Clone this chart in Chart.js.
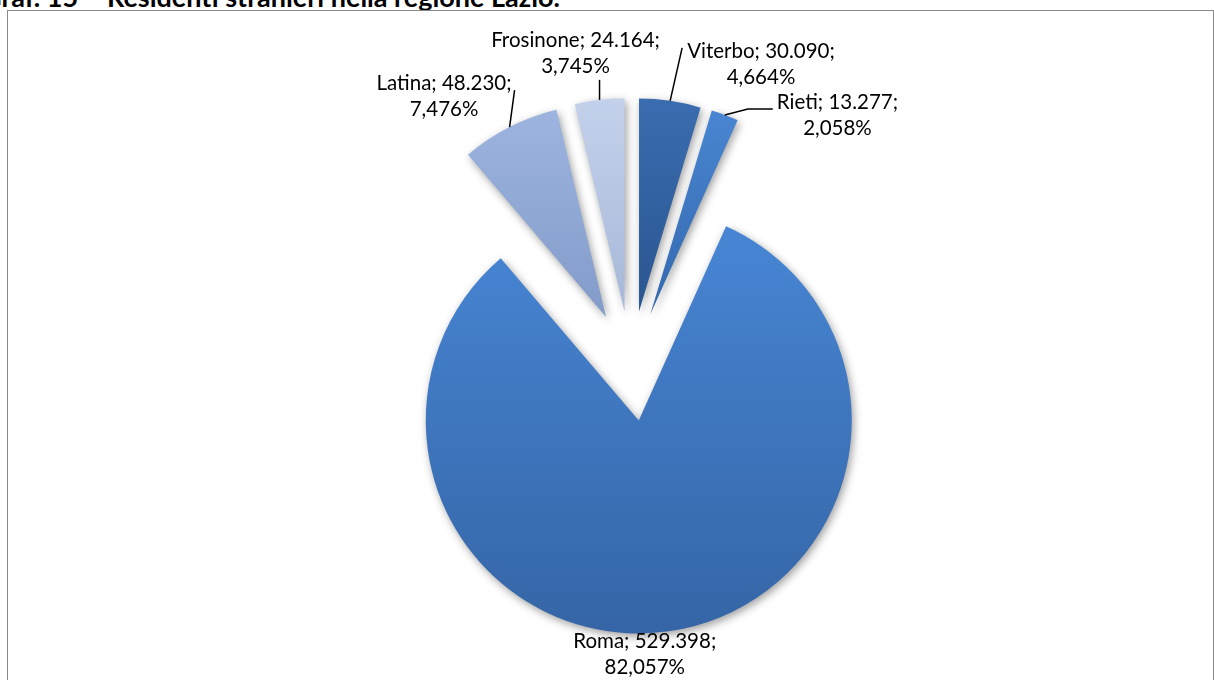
<!DOCTYPE html>
<html>
<head>
<meta charset="utf-8">
<script src="https://cdn.jsdelivr.net/npm/chart.js@4.4.1/dist/chart.umd.min.js"></script>
<style>
  html, body { margin: 0; padding: 0; background: #fff; overflow: hidden; }
  #wrap { position: relative; width: 1214px; height: 680px; }
  #title { position: absolute; left: -18px; top: -17px; font: bold 27px Lato, sans-serif; line-height: 27px; color: #000; white-space: nowrap; }
  #frame { position: absolute; left: 7px; top: 10px; width: 1207px; height: 700px; border: 1.5px solid #8a8a8a; box-sizing: border-box; }
  canvas { position: absolute; left: 0; top: 0; }
</style>
</head>
<body>
<div id="wrap">
  <div id="title">Graf. 15 – Residenti stranieri nella regione Lazio.</div>
  <div id="frame"></div>
  <canvas id="pieChart" width="1214" height="680"></canvas>
</div>
<script>
// data (clockwise from 12 o'clock)
const provinces = ['Viterbo', 'Rieti', 'Roma', 'Latina', 'Frosinone'];
const residents = [30090, 13277, 529398, 48230, 24164];

// look
const RADIUS = 213;
const EXPLODE = 55;
const sliceColors = [
  ['#3a6db0', '#2a5590'], // Viterbo
  ['#4a87d3', '#3368ad'], // Rieti
  ['#4887d6', '#3565a6'], // Roma
  ['#9db5df', '#829bc9'], // Latina
  ['#c3d1eb', '#a7b8d8']  // Frosinone
];
// leader line and text placement for each label
const labelLayout = [
  { lead: [12, -53], tail: 0, align: 'left', dx: 5, dy: 10 },
  { lead: [23, -6], tail: 25, align: 'left', dx: 4, dy: 0 },
  { lead: null, tail: 0, align: 'center', dx: -24, dy: 17 },
  { lead: [5, -37], tail: 0, align: 'right', dx: -3, dy: 0 },
  { lead: [0, -20], tail: 0, align: 'center', dx: -24, dy: -33 }
];
const LABEL_FONT = '20.5px Lato, sans-serif';
const LINE_H = 26;

const total = residents.reduce((s, v) => s + v, 0);

function fmtThousands(v) {
  return String(v).replace(/\B(?=(\d{3})+(?!\d))/g, '.');
}
function fmtPct(v) {
  return (v / total * 100).toFixed(3).replace('.', ',') + '%';
}

// centre of an exploded slice, computed the same way the pie lays it out
function sliceGeom(area, i) {
  let start = -Math.PI / 2;
  for (let k = 0; k < i; k++) start += residents[k] / total * Math.PI * 2;
  const span = residents[i] / total * Math.PI * 2;
  const mid = start + span / 2;
  return {
    cx: (area.left + area.right) / 2 + Math.cos(mid) * EXPLODE,
    cy: (area.top + area.bottom) / 2 + Math.sin(mid) * EXPLODE,
    span: span
  };
}

// move every slice outwards along its middle angle while drawing
const explodePlugin = {
  id: 'explode',
  beforeDatasetsDraw(chart) {
    const ctx = chart.ctx;
    ctx.save();
    ctx.shadowColor = 'rgba(0, 0, 0, 0.38)';
    ctx.shadowBlur = 9;
    ctx.shadowOffsetX = 2;
    ctx.shadowOffsetY = 3;
    chart.getDatasetMeta(0).data.forEach(arc => {
      const mid = (arc.startAngle + arc.endAngle) / 2;
      arc._baseX = arc.x;
      arc._baseY = arc.y;
      arc.x += Math.cos(mid) * EXPLODE;
      arc.y += Math.sin(mid) * EXPLODE;
    });
  },
  afterDatasetsDraw(chart) {
    chart.ctx.restore();
    chart.getDatasetMeta(0).data.forEach(arc => {
      arc.x = arc._baseX;
      arc.y = arc._baseY;
    });
  }
};

// "Name; value;" + "pct%" labels with leader lines
const labelPlugin = {
  id: 'sliceLabels',
  afterDatasetsDraw(chart) {
    const ctx = chart.ctx;
    ctx.save();
    ctx.font = LABEL_FONT;
    ctx.fillStyle = '#000';
    ctx.strokeStyle = '#000';
    ctx.lineWidth = 1.5;
    ctx.textBaseline = 'alphabetic';
    ctx.textAlign = 'center';
    chart.getDatasetMeta(0).data.forEach((arc, i) => {
      const mid = (arc.startAngle + arc.endAngle) / 2;
      const r = EXPLODE + arc.outerRadius;
      const ex = arc.x + Math.cos(mid) * r;
      const ey = arc.y + Math.sin(mid) * r;
      const lay = labelLayout[i];
      let ax = ex, ay = ey;
      if (lay.lead) {
        ctx.beginPath();
        ctx.moveTo(ex, ey);
        ax = ex + lay.lead[0];
        ay = ey + lay.lead[1];
        ctx.lineTo(ax, ay);
        if (lay.tail) {
          ax += lay.tail;
          ctx.lineTo(ax, ay);
        }
        ctx.stroke();
      }
      const lines = [provinces[i] + '; ' + fmtThousands(residents[i]) + ';', fmtPct(residents[i])];
      const w = Math.max(...lines.map(t => ctx.measureText(t).width));
      let cx = ax + lay.dx;
      if (lay.align === 'left') cx += w / 2;
      if (lay.align === 'right') cx -= w / 2;
      lines.forEach((t, k) => ctx.fillText(t, cx, ay + lay.dy + k * LINE_H));
    });
    ctx.restore();
  }
};

const ctxPie = document.getElementById('pieChart').getContext('2d');
const pieChart = new Chart(ctxPie, {
  type: 'pie',
  data: {
    labels: provinces,
    datasets: [{
      data: residents,
      radius: RADIUS,
      borderWidth: 0,
      backgroundColor(context) {
        const i = context.dataIndex;
        const area = context.chart.chartArea;
        if (i === undefined) return sliceColors[0][0];
        if (!area) return sliceColors[i][0];
        const g = sliceGeom(area, i);
        const top = g.cy - RADIUS;
        const bottom = g.span > Math.PI ? g.cy + RADIUS : g.cy;
        const grad = context.chart.ctx.createLinearGradient(0, top, 0, bottom);
        grad.addColorStop(0, sliceColors[i][0]);
        grad.addColorStop(1, sliceColors[i][1]);
        return grad;
      }
    }]
  },
  options: {
    responsive: false,
    animation: false,
    events: [],
    layout: { padding: { left: 48, top: 52 } },
    plugins: {
      legend: { display: false },
      tooltip: { enabled: false }
    }
  },
  plugins: [explodePlugin, labelPlugin]
});
</script>
</body>
</html>
